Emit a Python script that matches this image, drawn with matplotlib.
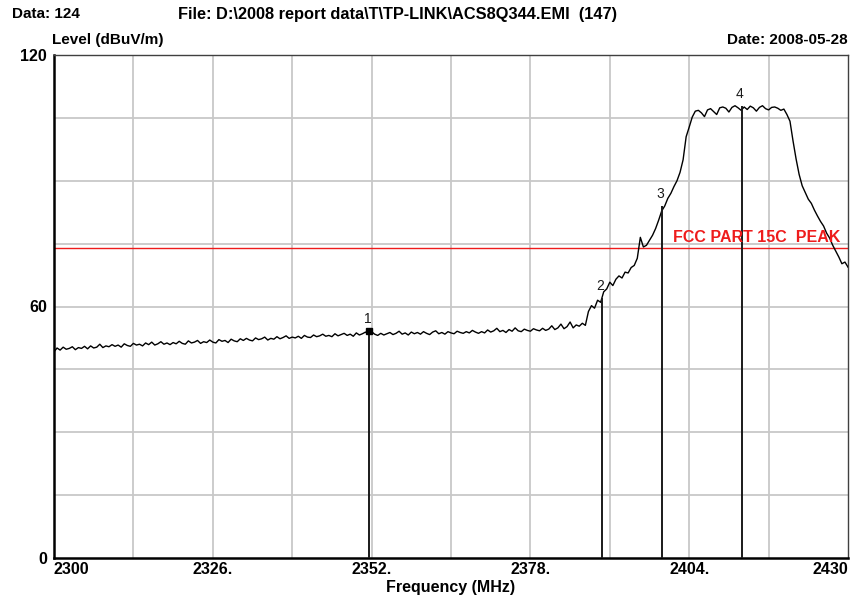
import numpy as np
import matplotlib
matplotlib.use("Agg")
import matplotlib.pyplot as plt
import matplotlib.transforms as mtransforms

plt.rcParams["font.family"] = ["Liberation Sans", "DejaVu Sans"]

# measured level (dBuV/m), 0.5 MHz steps, split into segments by start frequency
BASE_START = 2300.0
base_level = [
    49.2, 50.1, 49.6, 50.3, 49.8, 50.0, 50.4, 49.7, 50.2, 50.0, 50.5, 49.9, 50.6, 50.1, 50.3, 51.0, 50.2, 50.6, 50.4, 50.9,
    50.5, 50.8, 50.3, 51.1, 50.7, 50.5, 51.2, 50.8, 51.0, 50.6, 51.3, 50.9, 51.5, 50.8, 51.1, 51.6, 51.0, 51.3, 50.9, 51.4,
    51.1, 51.7, 51.2, 51.0, 51.8, 51.3, 51.5, 51.9, 51.2, 51.6, 51.4, 52.0, 51.5, 51.3, 52.1, 51.7, 51.9, 51.4, 52.2, 51.8,
    51.6, 52.3, 51.9, 52.4, 52.0, 51.8, 52.5, 52.1, 52.3, 52.7, 52.0, 52.4, 52.2, 52.8, 52.3, 52.6, 53.0, 52.4, 52.7, 52.5,
    52.9, 52.4, 53.1, 52.7, 52.6, 53.2, 52.8, 53.0, 53.4, 52.9, 53.1, 52.8, 53.5, 53.0, 53.3, 53.6, 53.1, 53.4, 52.9, 53.7,
    53.2, 53.5, 53.9, 53.3, 54.0, 53.4, 53.1, 53.6, 53.2, 53.5, 53.8, 53.3, 53.6, 54.1, 53.4, 53.7, 53.2, 53.9, 53.5, 53.8,
    53.4, 54.0, 53.6, 53.3, 53.9, 54.2, 53.5, 53.8, 53.4, 54.0, 53.7, 53.5, 54.1, 53.8, 53.6, 54.0, 53.7, 54.3, 53.9, 53.6,
    54.0, 53.7, 54.4, 53.9, 54.2, 54.8, 54.0, 54.3, 53.8, 54.5, 54.1, 54.9, 54.2, 54.0, 54.6, 54.3, 54.1, 54.7, 54.4, 54.2,
    54.8, 54.3, 54.6, 55.4, 54.5, 54.9, 55.8, 54.7, 55.2, 56.3, 54.9, 55.6,
]
RISE_START = 2386.0
rise_level = [
    55.3, 56.0, 55.5, 58.8, 60.2, 59.6, 61.5, 61.0, 63.5, 64.2,
    65.8, 65.0, 66.5, 67.3, 66.8, 68.2, 68.0, 69.3, 69.8, 71.5,
    76.5, 74.2, 74.6, 75.8, 77.0, 78.6, 80.6, 82.8, 84.0, 85.8,
    87.0, 88.6, 90.0, 92.0, 95.0, 100.5, 102.8, 105.2,
]
PLATEAU_START = 2405.0
plateau_level = [
    106.6, 106.8, 106.2, 105.3, 106.9, 107.2, 106.5, 105.8, 107.4, 107.6,
    107.3, 106.4, 107.5, 107.9, 107.4, 106.8, 107.6, 107.0, 107.8, 107.4,
    106.6, 107.5, 107.9, 107.2, 106.9, 107.5, 107.6, 107.3, 106.8, 107.1,
]
FALL_START = 2420.0
fall_level = [
    105.8, 104.2, 99.5, 95.2, 91.5, 88.8, 87.2, 85.6, 84.6, 83.0,
    81.6, 80.3, 79.2, 77.5, 76.3, 74.6, 73.2, 71.8, 70.2, 70.6, 69.4,
]

limit_level = 74.0
marker_freq = [2351.6, 2389.7, 2399.5, 2412.6]
marker_level = [54.1, 62.0, 84.0, 107.9]
marker_names = ["1", "2", "3", "4"]

x_ticks = [2300, 2326, 2352, 2378, 2404, 2430]
x_ticklabels = ["2300", "2326.", "2352.", "2378.", "2404.", "2430"]
y_ticks = [0, 60, 120]


def segment(start, levels):
    return start + 0.5 * np.arange(len(levels)), np.array(levels)


segs = [segment(BASE_START, base_level), segment(RISE_START, rise_level),
        segment(PLATEAU_START, plateau_level), segment(FALL_START, fall_level)]
freq = np.concatenate([s[0] for s in segs])
level = np.concatenate([s[1] for s in segs])

fig = plt.figure(figsize=(8.55, 6.03), dpi=100)
ax = fig.add_axes([54 / 855, 1 - 558 / 603, 794 / 855, 503 / 603])
ax.set_xlim(2300, 2430)
ax.set_ylim(0, 120)

for gx in np.arange(2313, 2430, 13):
    ax.axvline(gx, color="#c8c8c8", lw=1.3, zorder=1)
for gy in np.arange(15, 120, 15):
    ax.axhline(gy, color="#c8c8c8", lw=1.3, zorder=1)

ax.axhline(limit_level, color="#ee1c1c", lw=1.0, zorder=2)
ax.text(2428.8, limit_level + 0.6, "FCC PART 15C  PEAK", color="#ee1c1c",
        fontsize=11.5, fontweight="bold", ha="right", va="bottom", zorder=4)

ax.plot(freq, level, color="black", lw=1.0, zorder=3)

for f, l, n in zip(marker_freq, marker_level, marker_names):
    ax.vlines(f, 0, l, color="#1a1a1a", lw=1.4, zorder=3)
    ax.text(f - 0.3, l + 1.2, n, fontsize=10, ha="center", va="bottom",
            color="#1a1a1a", zorder=4)
ax.plot(marker_freq[0], marker_level[0], "s", color="black", ms=4, zorder=4)

ax.set_xticks(x_ticks)
ax.set_xticklabels(x_ticklabels, fontsize=11.5, fontweight="bold")
xl = ax.get_xticklabels()
xl[0].set_horizontalalignment("left")
# last label sits against the right edge of the picture
xl[-1].set_horizontalalignment("right")
xl[-1].set_transform(xl[-1].get_transform()
                     + mtransforms.ScaledTranslation(6 / 100, 0, fig.dpi_scale_trans))
ax.set_yticks(y_ticks)
ax.set_yticklabels([str(v) for v in y_ticks], fontsize=11.5, fontweight="bold")
ax.tick_params(length=0, pad=5)
ax.tick_params(axis="x", pad=3)
for s in ("left", "bottom"):
    ax.spines[s].set_linewidth(1.8)
for s in ("top", "right"):
    ax.spines[s].set_linewidth(1.0)
    ax.spines[s].set_color("#404040")

ax.set_xlabel("Frequency (MHz)", fontsize=11.5, fontweight="bold", labelpad=2)

fig.text(12 / 855, 1 - 14 / 603, "Data: 124", fontsize=11, fontweight="bold", va="center")
fig.text(178 / 855, 1 - 14 / 603, "File: D:\\2008 report data\\T\\TP-LINK\\ACS8Q344.EMI  (147)",
         fontsize=11.8, fontweight="bold", va="center")
fig.text(52 / 855, 1 - 40 / 603, "Level (dBuV/m)", fontsize=11, fontweight="bold", va="center")
fig.text(848 / 855, 1 - 40 / 603, "Date: 2008-05-28", fontsize=11, fontweight="bold",
         va="center", ha="right")

fig.savefig("out.png", dpi=100, facecolor="white")
